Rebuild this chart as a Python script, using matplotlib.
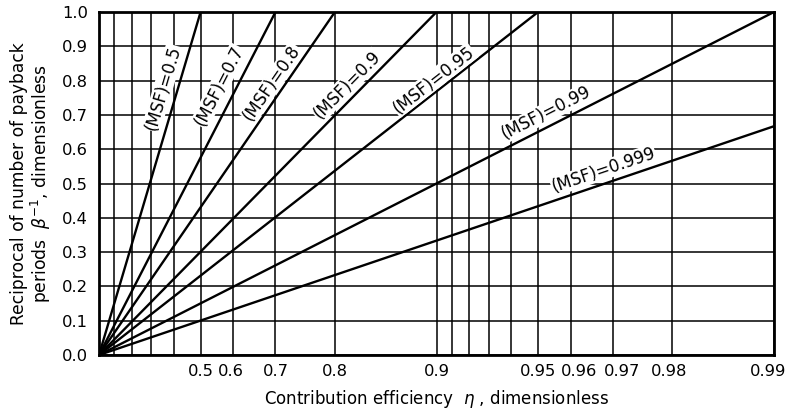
import numpy as np
import matplotlib
matplotlib.use("Agg")
import matplotlib.pyplot as plt
import matplotlib.transforms as mtransforms

# ---- data ----
msf_values = ["0.5", "0.7", "0.8", "0.9", "0.95", "0.99", "0.999"]
# each line runs from the origin to this end point (eta, beta^-1)
end_eta = [0.5, 0.7, 0.8, 0.9, 0.95, 0.99, 0.99]
end_beta = [1.0, 1.0, 1.0, 1.0, 1.0, 1.0, 0.667]

x_tick_values = [0.5, 0.6, 0.7, 0.8, 0.9, 0.95, 0.96, 0.97, 0.98, 0.99]
x_tick_labels = ["0.5", "0.6", "0.7", "0.8", "0.9", "0.95", "0.96", "0.97", "0.98", "0.99"]
x_label_shift_px = [0, -2, 0, 0, 0, 0, 8, 9, -3, -6]
x_minor_values = [0.1, 0.2, 0.3, 0.4, 0.91, 0.92, 0.93, 0.94]
y_tick_values = [0.0, 0.1, 0.2, 0.3, 0.4, 0.5, 0.6, 0.7, 0.8, 0.9, 1.0]

# label centres (eta, beta^-1)
label_eta = [0.354, 0.559, 0.693, 0.816, 0.898, 0.9526, 0.968]
label_beta = [0.778, 0.784, 0.793, 0.787, 0.802, 0.706, 0.539]

plt.rcParams['font.family'] = ['DejaVu Sans']


def fwd(x):
    x = np.asarray(x, dtype=float)
    return -np.log(np.clip(1.0 - x, 1e-12, None))


def inv(t):
    t = np.asarray(t, dtype=float)
    return 1.0 - np.exp(-t)


fig = plt.figure(figsize=(7.87, 4.17), dpi=100)
ax = fig.add_axes([99 / 787, 1 - 355 / 417, (774 - 99) / 787, (355 - 12) / 417])
ax.set_xscale('function', functions=(fwd, inv))
ax.set_xlim(0, 0.99)
ax.set_ylim(0, 1.0)

ax.set_xticks(x_tick_values)
ax.set_xticklabels([])
ax.set_xticks(x_minor_values, minor=True)
ax.set_xticklabels([], minor=True)
ax.set_yticks(y_tick_values)
ax.set_yticklabels([f"{v:.1f}" for v in y_tick_values])
ax.tick_params(axis='both', which='both', length=0, labelsize=11.8, colors='black')
ax.tick_params(axis='y', pad=8)

# x tick labels placed by hand (slightly shifted as in the original)
blend = mtransforms.blended_transform_factory(ax.transData, ax.transAxes)
for v, lab, dx in zip(x_tick_values, x_tick_labels, x_label_shift_px):
    tr = blend + mtransforms.ScaledTranslation(dx / 100, -17 / 100, fig.dpi_scale_trans)
    ax.text(v, 0.0, lab, transform=tr, ha='center', va='center', fontsize=11.8,
            color='black', clip_on=False)

ax.grid(True, which='both', color='black', linewidth=1.1)
ax.set_axisbelow(True)
for s in ax.spines.values():
    s.set_linewidth(2.0)
    s.set_color('black')

for e, b in zip(end_eta, end_beta):
    ax.plot([0.0, e], [0.0, b], color='black', linewidth=1.7, solid_capstyle='butt', zorder=3)

for m, e, b, lx, ly in zip(msf_values, end_eta, end_beta, label_eta, label_beta):
    p0 = ax.transData.transform((0.0, 0.0))
    p1 = ax.transData.transform((e, b))
    ang = np.degrees(np.arctan2(p1[1] - p0[1], p1[0] - p0[0]))
    ax.text(lx, ly, f"(MSF)={m}", rotation=ang, rotation_mode='anchor',
            ha='center', va='center', fontsize=12, color='black', zorder=4,
            bbox=dict(facecolor='white', edgecolor='none', pad=0.5))

ax.set_xlabel(r"Contribution efficiency  $\eta$ , dimensionless", fontsize=12, labelpad=20)
ax.set_ylabel("Reciprocal of number of payback\nperiods  $\\beta^{-1}$, dimensionless", fontsize=12.3,
              labelpad=6, linespacing=1.05)

fig.savefig("out.png", dpi=100)
